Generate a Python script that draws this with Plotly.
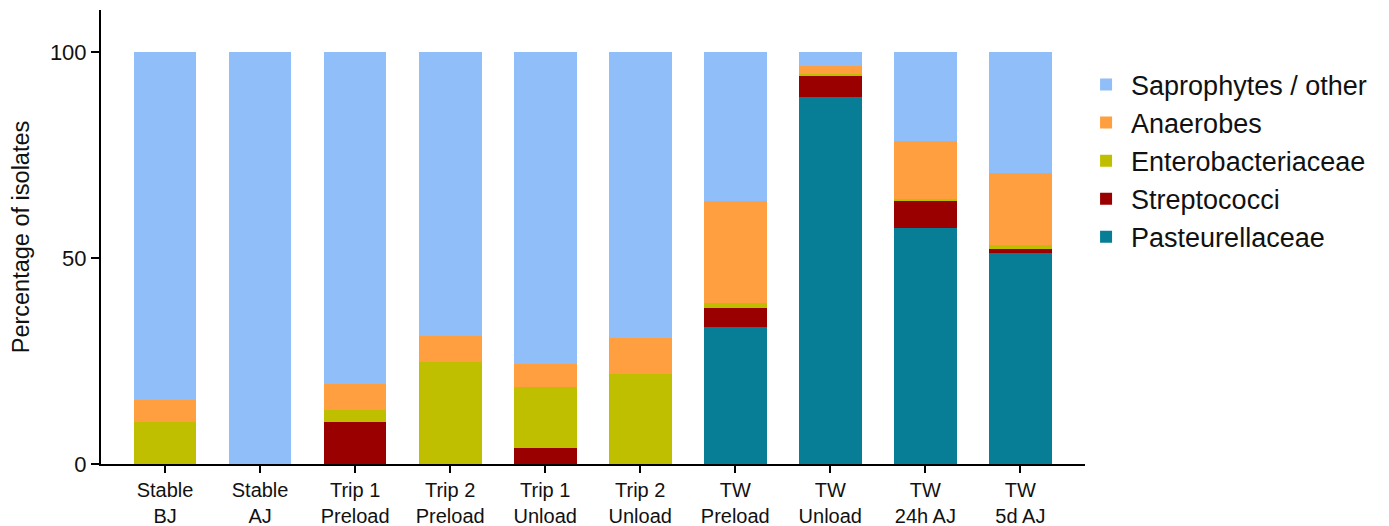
import plotly.graph_objects as go

categories = ["Stable<br>BJ", "Stable<br>AJ", "Trip 1<br>Preload", "Trip 2<br>Preload",
              "Trip 1<br>Unload", "Trip 2<br>Unload", "TW<br>Preload", "TW<br>Unload",
              "TW<br>24h AJ", "TW<br>5d AJ"]

pasteurellaceae = [0, 0, 0, 0, 0, 0, 33.3, 89.0, 57.4, 51.1]
streptococci = [0, 0, 10.1, 0, 4.0, 0, 4.5, 5.3, 6.5, 1.2]
enterobacteriaceae = [10.2, 0, 3.0, 24.7, 14.8, 21.8, 1.2, 0.3, 0.4, 0.9]
anaerobes = [5.3, 0, 6.2, 6.3, 5.4, 8.7, 24.8, 2.1, 14.0, 17.4]
saprophytes = [84.4, 100, 80.7, 69.0, 75.8, 69.5, 36.2, 3.3, 21.7, 29.4]

series = [
    ("Pasteurellaceae", pasteurellaceae, "#077E96"),
    ("Streptococci", streptococci, "#9B0000"),
    ("Enterobacteriaceae", enterobacteriaceae, "#BFBF00"),
    ("Anaerobes", anaerobes, "#FF9F40"),
    ("Saprophytes / other", saprophytes, "#8FBEF8"),
]

fig = go.Figure()
for name, vals, color in series:
    fig.add_trace(go.Bar(
        x=list(range(len(categories))), y=vals, name=name, legendgroup=name,
        marker=dict(color=color, line=dict(width=0)), width=0.66,
    ))

fig.update_layout(
    barmode="stack",
    width=1381, height=518,
    margin=dict(l=93, r=304, t=2, b=62),
    plot_bgcolor="white", paper_bgcolor="white",
    font=dict(family="Liberation Sans, Arial, sans-serif", color="#111111"),
    showlegend=True,
    legend=dict(
        x=0.996, xanchor="left", y=0.889, yanchor="top",
        traceorder="reversed", tracegroupgap=9,
        font=dict(size=27, color="#111111"),
        itemwidth=40,
    ),
    xaxis=dict(
        range=[-0.674, 9.68], automargin=False,
        tickmode="array", tickvals=list(range(len(categories))), ticktext=categories,
        showline=True, linecolor="black", linewidth=2,
        ticks="outside", ticklen=7, tickwidth=2, tickcolor="black",
        tickfont=dict(size=20), showgrid=False, zeroline=False,
    ),
    yaxis=dict(
        range=[0, 110.2], automargin=False,
        tickvals=[0, 50, 100],
        showline=True, linecolor="black", linewidth=2,
        ticks="outside", ticklen=8, tickwidth=2, tickcolor="black",
        tickfont=dict(size=22), showgrid=False, zeroline=False,
        title=dict(text="Percentage of isolates", font=dict(size=23.5)),
    ),
)

fig.write_html("out.html")
